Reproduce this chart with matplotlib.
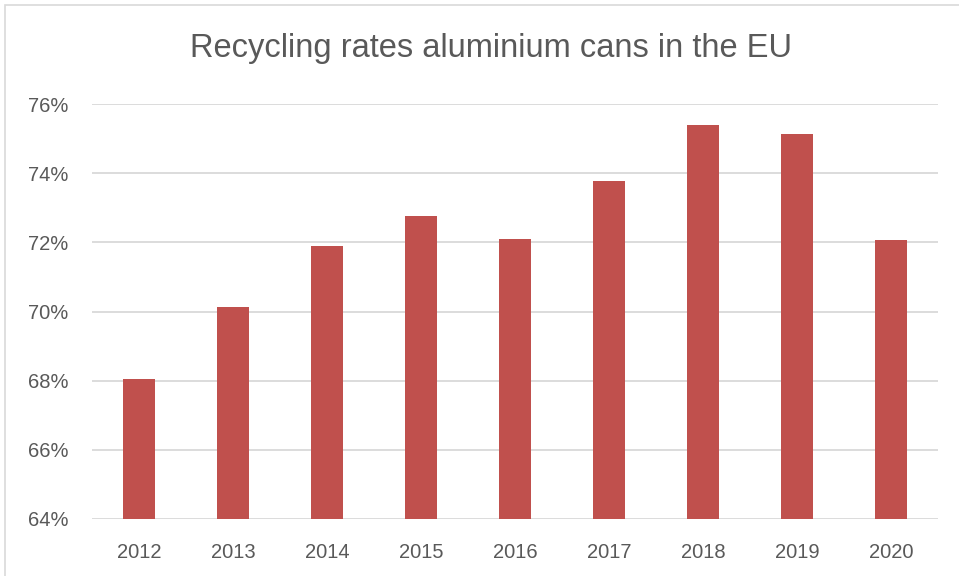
import matplotlib
matplotlib.use("Agg")
from matplotlib import pyplot as plt
from matplotlib.patches import Rectangle
from matplotlib.ticker import FuncFormatter

years = ["2012", "2013", "2014", "2015", "2016", "2017", "2018", "2019", "2020"]
rates = [68.05, 70.13, 71.9, 72.75, 72.1, 73.78, 75.4, 75.12, 72.07]

plt.rcParams['font.family'] = ['Liberation Sans', 'DejaVu Sans']

W, H = 959, 576
fig = plt.figure(figsize=(W / 100, H / 100), dpi=100)

# outer chart border (cropped at the right and bottom)
fig.patches.append(Rectangle((5 / W, -0.1), 1.1, 1 - 5 / H + 0.1,
                             transform=fig.transFigure, fill=False,
                             edgecolor='#D9D9D9', linewidth=1.2))

ax = fig.add_axes([92 / W, 1 - 519 / H, (938 - 92) / W, (519 - 104) / H])
x = list(range(len(years)))
ax.bar(x, rates, width=0.33, color='#C0504D', bottom=0, zorder=3)
ax.set_ylim(64, 76)
ax.set_xlim(-0.5, len(years) - 0.5)
ax.set_yticks([64, 66, 68, 70, 72, 74, 76])
ax.yaxis.set_major_formatter(FuncFormatter(lambda v, p: f"{v:.0f}%"))
ax.set_xticks(x)
ax.set_xticklabels(years)
ax.grid(axis='y', color='#D9D9D9', linewidth=1.3, zorder=0)
for s in ax.spines.values():
    s.set_visible(False)
ax.tick_params(length=0, colors='#595959', labelsize=14.5)
ax.tick_params(axis='y', pad=17)
ax.tick_params(axis='x', pad=17)

fig.text(491 / W, 1 - 49 / H, "Recycling rates aluminium cans in the EU",
         ha='center', va='center', fontsize=23.5, color='#595959')

fig.savefig("out.png", dpi=100)
